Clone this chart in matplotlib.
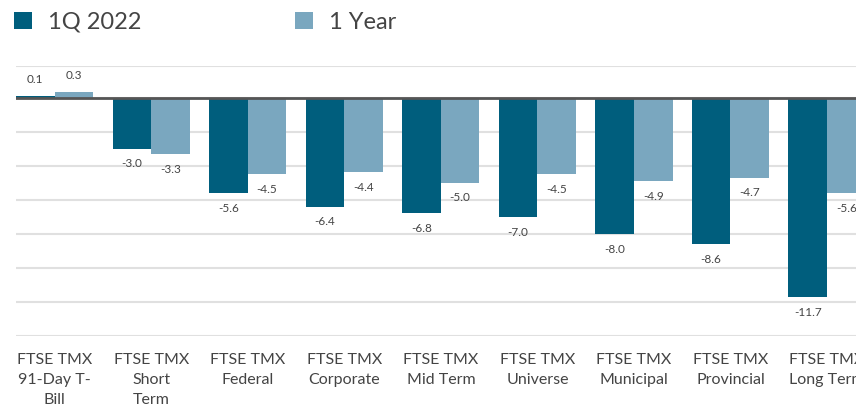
import matplotlib
matplotlib.use("Agg")
from matplotlib import pyplot as plt
import numpy as np

categories = ["FTSE TMX\n91-Day T-\nBill", "FTSE TMX\nShort\nTerm", "FTSE TMX\nFederal",
              "FTSE TMX\nCorporate", "FTSE TMX\nMid Term", "FTSE TMX\nUniverse",
              "FTSE TMX\nMunicipal", "FTSE TMX\nProvincial", "FTSE TMX\nLong Term"]
q1_2022 = [0.1, -3.0, -5.6, -6.4, -6.8, -7.0, -8.0, -8.6, -11.7]
one_year = [0.3, -3.3, -4.5, -4.4, -5.0, -4.5, -4.9, -4.7, -5.6]
series_names = ["1Q 2022", "1 Year"]

dark = "#005E7D"
light = "#7AA7BF"
txt = "#444444"
plt.rcParams['font.family'] = ['Lato', 'DejaVu Sans']

fig = plt.figure(figsize=(8.56, 4.09), dpi=100)
ax = fig.add_axes([16/856, 1-336/409, 840/856, 270/409])

x = np.arange(len(categories))
w = 0.4
b1 = ax.bar(x - w/2, q1_2022, w, color=dark, label=series_names[0], zorder=3)
b2 = ax.bar(x + w/2, one_year, w, color=light, label=series_names[1], zorder=3)

for bars, vals in [(b1, q1_2022), (b2, one_year)]:
    for r, v in zip(bars, vals):
        off = 12 if v >= 0 else -11
        ax.annotate(f"{v:.1f}", (r.get_x() + r.get_width()/2, v), xytext=(0, off),
                    textcoords="offset points", ha="center", va="center",
                    fontsize=8.5, color=txt)

ax.set_xlim(-0.4, 8.3)
ax.set_ylim(-14, 1.85)
ax.set_yticks(np.arange(-14, 1, 2))
ax.yaxis.grid(True, color="#e0e0e0", lw=1.5, zorder=0)
ax.axhline(0, color="#555555", lw=2, zorder=4)
ax.axhline(1.85, color="#e0e0e0", lw=1.5, zorder=0)
for s in ax.spines.values():
    s.set_visible(False)
ax.tick_params(axis="y", left=False, labelleft=False)
ax.tick_params(axis="x", bottom=False, pad=9)
ax.set_xticks(x)
ax.set_xticklabels(categories, fontsize=11.5, color=txt, linespacing=1.55, va="top")

fig.legend(handles=[b1, b2], loc="upper left", bbox_to_anchor=(2/856, 1.0),
           ncol=2, frameon=False, fontsize=17, labelcolor=txt,
           handlelength=0.75, handleheight=0.75, handletextpad=0.7,
           columnspacing=6.5, borderaxespad=0.1)

fig.savefig("out.png", dpi=100)
